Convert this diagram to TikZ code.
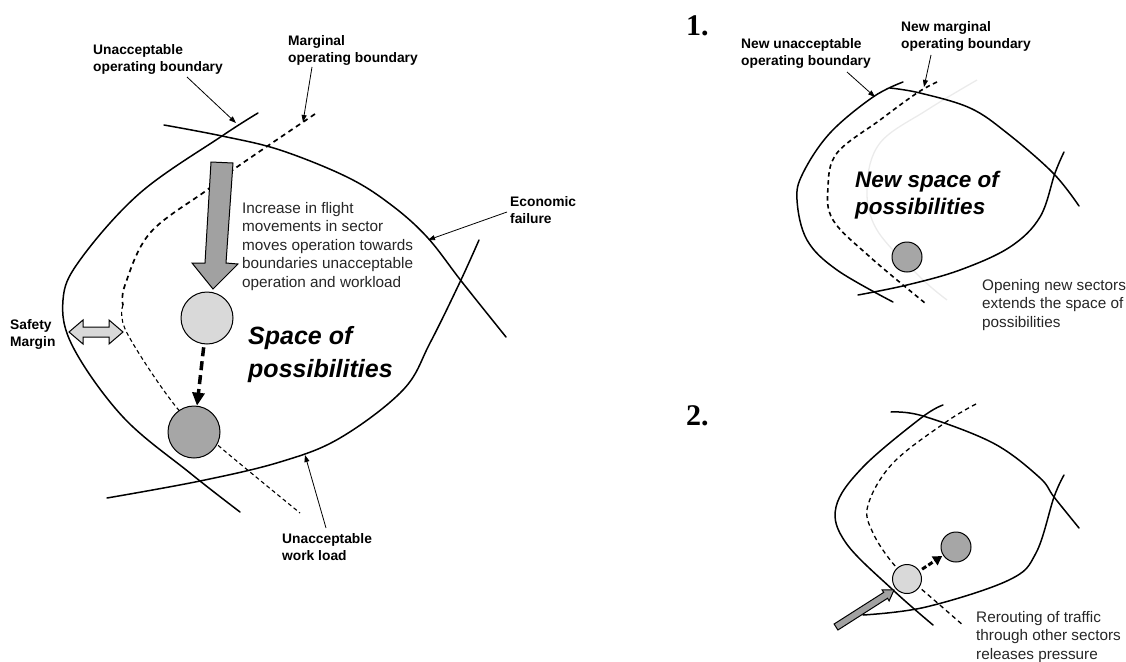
\documentclass[tikz,border=0pt]{standalone}
\usepackage{fontspec}
\setmainfont{Liberation Sans}
\newfontfamily\numfont{Liberation Serif}
\usetikzlibrary{arrows.meta,calc}

\begin{document}
\begin{tikzpicture}[x=1pt,y=-1pt,
  bound/.style={line width=1.5pt, line cap=round},
  marg/.style={line width=1.3pt, dash pattern=on 4.5pt off 3.5pt},
  margbold/.style={line width=1.7pt, dash pattern=on 5pt off 4pt},
  margthin/.style={line width=1.1pt, dash pattern=on 4pt off 3pt},
  faint/.style={line width=1.3pt, black!8},
  ptr/.style={line width=0.8pt, -{Triangle[length=7pt,width=5pt]}},
  lbl/.style={font=\fontsize{13.8}{17}\selectfont\bfseries, align=left, anchor=north west, inner sep=0pt},
  note/.style={font=\fontsize{15.3}{18.5}\selectfont, align=left, anchor=north west, inner sep=0pt, text=black!85},
  big/.style={font=\fontsize{25}{33}\selectfont\bfseries\itshape, align=left, anchor=north west, inner sep=0pt},
  bignew/.style={font=\fontsize{22.5}{27}\selectfont\bfseries\itshape, align=left, anchor=north west, inner sep=0pt},
  num/.style={font=\fontsize{30}{30}\selectfont\numfont\bfseries, anchor=west, inner sep=0pt},
  lightdot/.style={circle, draw, line width=1pt, fill=black!15, inner sep=0pt},
  darkdot/.style={circle, draw, line width=1pt, fill=black!35, inner sep=0pt},
  grayarrow/.style={draw, line width=1pt, fill=black!37, line join=miter}
]
\useasboundingbox (0,0) rectangle (1126,661);

% ---------------- main space of possibilities ----------------
% economic failure boundary
\draw[bound] plot[smooth, tension=0.6] coordinates {(164,125) (222,136) (280,150) (347,177) (390,204) (427,237) (462,282) (506,337)};
% unacceptable workload boundary
\draw[bound] plot[smooth, tension=0.6] coordinates {(107,498) (200,481) (280,462) (340,438) (403,390) (430,343) (460,282) (479,240)};
% unacceptable operating boundary
\draw[bound] plot[smooth, tension=0.6] coordinates {(258,113) (222,136) (140,193) (80,260) (63,300) (73,347) (123,417) (190,473) (240,512)};
% marginal operating boundary (heavier dashes above the safety margin)
\draw[margbold] plot[smooth, tension=0.6] coordinates {(315,114) (237,167) (207,190) (150,233) (125,285) (123,305)};
\draw[margthin] plot[smooth, tension=0.6] coordinates {(123,305) (127,333) (177,408) (220,447) (300,513)};

% operating point moving towards the boundaries
\draw[grayarrow] (211,162) -- (233,163) -- (226,263) -- (238,264) -- (213,289) -- (192,263) -- (205,263) -- cycle;
\node[lightdot, minimum size=52pt] (opA) at (207,318) {};
\node[darkdot, minimum size=52pt] (opB) at (194,432) {};
\draw[line width=3.5pt, dash pattern=on 9pt off 5pt, -{Triangle[length=13pt,width=12pt]}, shorten <=3pt] (opA) -- (opB);

% safety margin
\draw[fill=black!15, line width=1pt, line join=miter] (69,332) -- (83,320) -- (83,327) -- (109,327) -- (109,320) -- (123,332) -- (109,344) -- (109,337) -- (83,337) -- (83,344) -- cycle;

% labels
\node[lbl] (lUnacc) at (93,44) {Unacceptable\\operating boundary};
\node[lbl] (lMarg) at (288,35) {Marginal\\operating boundary};
\node[lbl] (lEcon) at (510,196) {Economic\\failure};
\node[lbl] (lSafety) at (10,319) {Safety\\Margin};
\node[lbl] (lWork) at (282,533) {Unacceptable\\work load};
\node[note] (tIncrease) at (242,202) {Increase in flight\\movements in sector\\moves operation towards\\boundaries unacceptable\\operation and workload};
\node[big] (tSpace) at (248,326) {Space of\\possibilities};

% label pointers
\coordinate (pUa) at (187,77);  \coordinate (qUa) at (236,123);
\coordinate (pMa) at (312,67);  \coordinate (qMa) at (303,122);
\coordinate (pEc) at (507,212); \coordinate (qEc) at (428,240);
\coordinate (pWl) at (326,528); \coordinate (qWl) at (305,455);
\draw[ptr] (pUa) -- (qUa);
\draw[ptr] (pMa) -- (qMa);
\draw[ptr] (pEc) -- (qEc);
\draw[ptr] (pWl) -- (qWl);

% ---------------- 1. new sectors ----------------
\node[num] (n1) at (686,26) {1.};
% previous marginal boundary, faded
\draw[faint] plot[smooth, tension=0.6] coordinates {(977,80) (927,110) (880,143) (867,187) (877,230) (920,277) (947,300)};
\draw[bound] plot[smooth, tension=0.6] coordinates {(890,88) (920,93) (970,108) (1007,133) (1053,173) (1079,206)};
\draw[bound] plot[smooth, tension=0.6] coordinates {(858,295) (907,285) (960,270) (1010,247) (1040,217) (1055,173) (1064,152)};
\draw[bound] plot[smooth, tension=0.6] coordinates {(903,82) (873,97) (830,133) (803,173) (797,200) (807,240) (837,270) (893,302)};
\draw[marg, line width=1.6pt] plot[smooth, tension=0.6] coordinates {(937,82) (917,93) (880,120) (837,153) (828,187) (833,220) (870,257) (925,303)};
\node[darkdot, minimum size=30pt] (opC) at (907,257) {};

\node[lbl] (lNewUnacc) at (741,38) {New unacceptable\\operating boundary};
\node[lbl] (lNewMarg) at (901,21) {New marginal\\operating boundary};
\node[bignew] (tNewSpace) at (855,171) {New space of\\possibilities};
\node[note] (tOpening) at (982,279) {Opening new sectors\\extends the space of\\possibilities};
\coordinate (pNu) at (847,72);  \coordinate (qNu) at (875,97);
\coordinate (pNm) at (931,55);  \coordinate (qNm) at (924,87);
\draw[ptr] (pNu) -- (qNu);
\draw[ptr] (pNm) -- (qNm);

% ---------------- 2. rerouting ----------------
\node[num] (n2) at (686,416) {2.};
\draw[bound] plot[smooth, tension=0.6] coordinates {(891,412) (923,416) (993,443) (1039,477) (1054,497) (1079,528)};
\draw[bound] plot[smooth, tension=0.6] coordinates {(863,615) (926,607) (1009,580) (1036,553) (1054,497) (1064,475)};
\draw[bound] plot[smooth, tension=0.6] coordinates {(943,405) (921,418) (863,467) (836,507) (846,543) (893,590) (933,625)};
\draw[marg] plot[smooth, tension=0.6] coordinates {(976,404) (946,422) (893,463) (868,505) (873,533) (896,567) (926,593) (964,626)};

\draw[grayarrow] (837.9,630.0) -- (887.5,598.3) -- (889.1,600.9) -- (894,590) -- (882.1,589.9) -- (883.7,592.4) -- (834.1,624.0) -- cycle;
\node[lightdot, minimum size=29pt] (opD) at (907,579) {};
\node[darkdot, minimum size=30pt] (opE) at (956,547) {};
\draw[line width=3pt, dash pattern=on 5pt off 2.5pt, -{Triangle[length=9pt,width=10pt]}, shorten <=3pt, shorten >=1pt] (opD) -- (opE);

\node[note] (tReroute) at (976,611) {Rerouting of traffic\\through other sectors\\releases pressure};
\end{tikzpicture}
\end{document}
